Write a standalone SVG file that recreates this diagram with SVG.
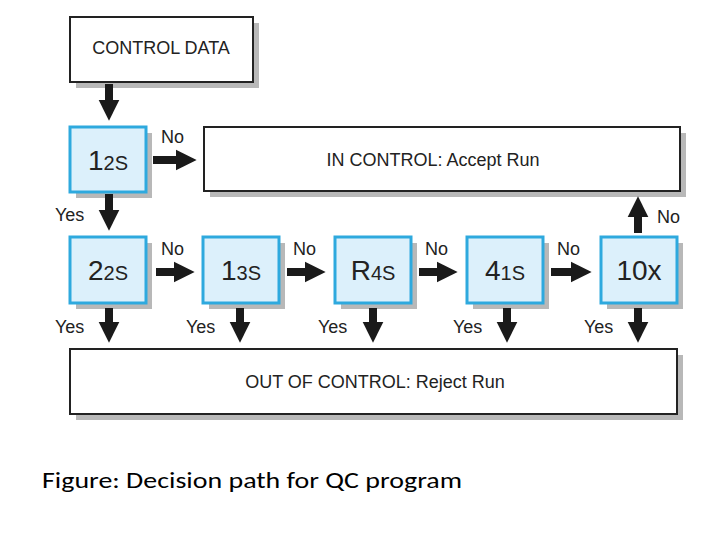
<svg xmlns="http://www.w3.org/2000/svg" width="720" height="540" viewBox="0 0 720 540">
<defs>
<style>
.sh{fill:#b8b8b8}
.wb{fill:#fff;stroke:#222;stroke-width:2}
.bb{fill:#dcf0fb;stroke:#2ea9de;stroke-width:3}
.t{font-family:"Liberation Sans",Arial,sans-serif;fill:#222}
.big{font-size:28px}
.sub{font-size:20px}
.lab{font-size:18px}
.ar{stroke:#1a1a1a;stroke-width:8;fill:none}
.hd{fill:#1a1a1a}
</style>
<marker id="h" viewBox="0 0 10 10" refX="2" refY="5" markerWidth="2.6" markerHeight="2.8" orient="auto" markerUnits="strokeWidth"><path d="M0,0L10,5L0,10z" class="hd"/></marker>
</defs>
<rect width="720" height="540" fill="#fff"/>
<g id="control-data"><rect class="sh" x="76" y="23" width="183" height="65"/><rect class="wb" x="70" y="17" width="183" height="65"/><text class="t" x="161" y="54" font-size="18" text-anchor="middle">CONTROL DATA</text></g>
<g id="r12s"><rect class="sh" x="76" y="133" width="76" height="65"/><rect class="bb" x="70" y="127" width="76" height="65"/><text class="t" x="108" y="170" text-anchor="middle"><tspan class="big">1</tspan><tspan class="sub">2S</tspan></text></g>
<g id="in-control"><rect class="sh" x="210" y="133" width="476" height="64"/><rect class="wb" x="204" y="127" width="476" height="64"/><text class="t" x="433" y="166" font-size="18" text-anchor="middle">IN CONTROL:  Accept Run</text></g>
<g id="r22s"><rect class="sh" x="76" y="243" width="76" height="66"/><rect class="bb" x="70" y="237" width="76" height="66"/><text class="t" x="108" y="280" text-anchor="middle"><tspan class="big">2</tspan><tspan class="sub">2S</tspan></text></g>
<g id="r13s"><rect class="sh" x="209" y="243" width="76" height="66"/><rect class="bb" x="203" y="237" width="76" height="66"/><text class="t" x="241" y="280" text-anchor="middle"><tspan class="big">1</tspan><tspan class="sub">3S</tspan></text></g>
<g id="r4s"><rect class="sh" x="341" y="243" width="76" height="66"/><rect class="bb" x="335" y="237" width="76" height="66"/><text class="t" x="373" y="280" text-anchor="middle"><tspan class="big">R</tspan><tspan class="sub">4S</tspan></text></g>
<g id="r41s"><rect class="sh" x="473" y="243" width="76" height="66"/><rect class="bb" x="467" y="237" width="76" height="66"/><text class="t" x="505" y="280" text-anchor="middle"><tspan class="big">4</tspan><tspan class="sub">1S</tspan></text></g>
<g id="r10x"><rect class="sh" x="607" y="243" width="76" height="66"/><rect class="bb" x="601" y="237" width="76" height="66"/><text class="t big" x="639" y="280" text-anchor="middle">10x</text></g>
<g id="out-control"><rect class="sh" x="76" y="355" width="607" height="65"/><rect class="wb" x="70" y="349" width="607" height="65"/><text class="t" x="375" y="388" font-size="18" text-anchor="middle">OUT OF CONTROL:  Reject Run</text></g>
<g id="connectors">
<line class="ar" x1="109" y1="84" x2="109" y2="104" marker-end="url(#h)"/>
<line class="ar" x1="153" y1="160" x2="180" y2="160" marker-end="url(#h)"/>
<line class="ar" x1="109" y1="194" x2="109" y2="214" marker-end="url(#h)"/>
<line class="ar" x1="156" y1="272" x2="178" y2="272" marker-end="url(#h)"/>
<line class="ar" x1="287" y1="272" x2="309" y2="272" marker-end="url(#h)"/>
<line class="ar" x1="419" y1="272" x2="441" y2="272" marker-end="url(#h)"/>
<line class="ar" x1="551" y1="272" x2="575" y2="272" marker-end="url(#h)"/>
<line class="ar" x1="638" y1="233" x2="638" y2="213" marker-end="url(#h)"/>
<line class="ar" x1="109" y1="308" x2="109" y2="326" marker-end="url(#h)"/>
<line class="ar" x1="240" y1="308" x2="240" y2="326" marker-end="url(#h)"/>
<line class="ar" x1="373" y1="308" x2="373" y2="326" marker-end="url(#h)"/>
<line class="ar" x1="507" y1="308" x2="507" y2="326" marker-end="url(#h)"/>
<line class="ar" x1="638" y1="308" x2="638" y2="326" marker-end="url(#h)"/>
<text class="t lab" x="161" y="143">No</text>
<text class="t lab" x="55" y="221">Yes</text>
<text class="t lab" x="161" y="255">No</text>
<text class="t lab" x="293" y="255">No</text>
<text class="t lab" x="425" y="255">No</text>
<text class="t lab" x="557" y="255">No</text>
<text class="t lab" x="657" y="223">No</text>
<text class="t lab" x="55" y="333">Yes</text>
<text class="t lab" x="186" y="333">Yes</text>
<text class="t lab" x="318" y="333">Yes</text>
<text class="t lab" x="453" y="333">Yes</text>
<text class="t lab" x="584" y="333">Yes</text>
</g>
<text x="42" y="488" font-family="Carlito,'Open Sans',sans-serif" font-size="23" textLength="420" lengthAdjust="spacingAndGlyphs" fill="#000">Figure: Decision path for QC program</text>
</svg>
